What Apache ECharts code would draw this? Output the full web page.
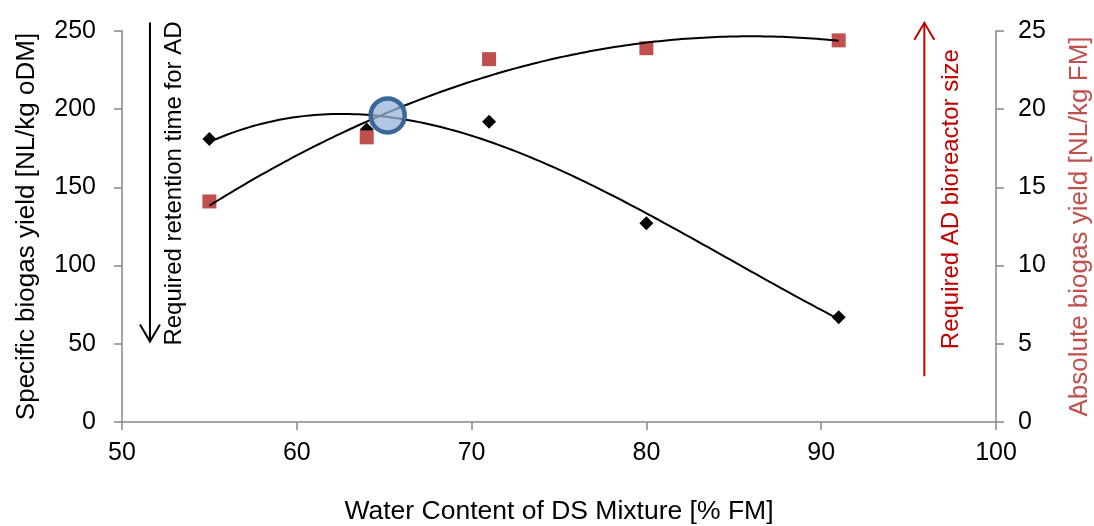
<!DOCTYPE html>
<html>
<head>
<meta charset="utf-8">
<script src="https://cdn.jsdelivr.net/npm/echarts@6/dist/echarts.min.js"></script>
<style>
  html, body { margin: 0; padding: 0; background: #ffffff; }
  #chart { width: 1094px; height: 526px; }
</style>
</head>
<body>
<div id="chart"></div>
<script>
// Measured points: water content of the DS mixture vs. biogas yields
const waterContent = [55, 64, 71, 80, 91];            // % FM
const specificYield = [181, 187, 192, 127, 67];       // NL/kg oDM (left axis)
const absoluteYield = [14.1, 18.2, 23.2, 23.9, 24.4]; // NL/kg FM (right axis)

// Highlighted optimum where both trends meet (x in % FM, y on the left axis)
const optimumPoint = [65.2, 196];

// Axis ranges
const xRange = { min: 50, max: 100, interval: 10 };
const leftRange = { min: 0, max: 250, interval: 50 };
const rightRange = { min: 0, max: 25, interval: 5 };

// Text
const xTitle = 'Water Content of DS Mixture [% FM]';
const leftTitle = 'Specific biogas yield [NL/kg oDM]';
const rightTitle = 'Absolute biogas yield [NL/kg FM]';
const retentionNote = 'Required retention time for AD';
const reactorNote = 'Required AD bioreactor size';

// Least-squares polynomial trend line (centered x for stability)
function polyfit(xs, ys, order) {
  const mean = xs.reduce((a, b) => a + b, 0) / xs.length;
  const n = order + 1;
  const A = Array.from({ length: n }, () => new Array(n + 1).fill(0));
  xs.forEach((x, k) => {
    const t = x - mean;
    for (let i = 0; i < n; i++) {
      for (let j = 0; j < n; j++) A[i][j] += Math.pow(t, i + j);
      A[i][n] += Math.pow(t, i) * ys[k];
    }
  });
  for (let c = 0; c < n; c++) {
    let p = c;
    for (let r = c + 1; r < n; r++) if (Math.abs(A[r][c]) > Math.abs(A[p][c])) p = r;
    [A[c], A[p]] = [A[p], A[c]];
    for (let r = 0; r < n; r++) {
      if (r === c) continue;
      const f = A[r][c] / A[c][c];
      for (let k = c; k <= n; k++) A[r][k] -= f * A[c][k];
    }
  }
  const coef = A.map((row, i) => row[n] / row[i]);
  return x => coef.reduce((s, c, i) => s + c * Math.pow(x - mean, i), 0);
}

const specificFit = polyfit(waterContent, specificYield, 3);
const absoluteFit = polyfit(waterContent, absoluteYield, 2);

const xFrom = waterContent[0], xTo = waterContent[waterContent.length - 1];
const fitX = [];
for (let x = xFrom; x <= xTo + 1e-9; x += 0.25) fitX.push(+x.toFixed(2));

const FONT = '"Liberation Sans", Arial, sans-serif';
const axisGrey = '#868686';

const chart = echarts.init(document.getElementById('chart'), null, { renderer: 'canvas' });

chart.setOption({
  animation: false,
  backgroundColor: '#ffffff',
  textStyle: { fontFamily: FONT },
  grid: { left: 122, right: 98, top: 31, bottom: 104, containLabel: false, outerBoundsMode: 'none' },
  xAxis: {
    type: 'value', min: xRange.min, max: xRange.max, interval: xRange.interval,
    name: xTitle, nameLocation: 'middle', nameGap: 76,
    nameTextStyle: { fontSize: 26.5, color: '#000', fontFamily: FONT },
    axisLine: { lineStyle: { color: axisGrey, width: 1.5 } },
    axisTick: { show: true, inside: false, length: 8, lineStyle: { color: axisGrey, width: 1.5 } },
    axisLabel: { fontSize: 25, color: '#000', margin: 19, fontFamily: FONT },
    splitLine: { show: false }
  },
  yAxis: [
    {
      type: 'value', min: leftRange.min, max: leftRange.max, interval: leftRange.interval,
      position: 'left',
      name: leftTitle, nameLocation: 'middle', nameGap: 82, nameRotate: 90,
      nameTextStyle: { fontSize: 26, color: '#000', fontFamily: FONT },
      axisLine: { show: true, lineStyle: { color: axisGrey, width: 1.5 } },
      axisTick: { show: true, length: 8, lineStyle: { color: axisGrey, width: 1.5 } },
      axisLabel: { fontSize: 25, color: '#000', margin: 26, fontFamily: FONT },
      splitLine: { show: false }
    },
    {
      type: 'value', min: rightRange.min, max: rightRange.max, interval: rightRange.interval,
      position: 'right',
      name: rightTitle, nameLocation: 'middle', nameGap: 71, nameRotate: 90,
      nameTextStyle: { fontSize: 26, color: '#c0504d', fontFamily: FONT },
      axisLine: { show: true, lineStyle: { color: axisGrey, width: 1.5 } },
      axisTick: { show: true, length: 8, lineStyle: { color: axisGrey, width: 1.5 } },
      axisLabel: { fontSize: 25, color: '#000', margin: 22, fontFamily: FONT },
      splitLine: { show: false }
    }
  ],
  series: [
    {
      name: 'Specific biogas yield', type: 'scatter', yAxisIndex: 0,
      symbol: 'diamond', symbolSize: 14, z: 2,
      itemStyle: { color: '#000000', opacity: 1 },
      data: waterContent.map((x, i) => [x, specificYield[i]])
    },
    {
      name: 'Absolute biogas yield', type: 'scatter', yAxisIndex: 1,
      symbol: 'rect', symbolSize: 14, z: 2,
      itemStyle: { color: '#c0504d', opacity: 1 },
      data: waterContent.map((x, i) => [x, absoluteYield[i]])
    },
    {
      name: 'Specific yield trend', type: 'line', yAxisIndex: 0,
      showSymbol: false, smooth: false, z: 3,
      lineStyle: { color: '#000000', width: 2 },
      data: fitX.map(x => [x, specificFit(x)])
    },
    {
      name: 'Absolute yield trend', type: 'line', yAxisIndex: 1,
      showSymbol: false, smooth: false, z: 3,
      lineStyle: { color: '#000000', width: 2 },
      data: fitX.map(x => [x, absoluteFit(x)])
    },
    {
      name: 'Optimum', type: 'scatter', yAxisIndex: 0,
      symbol: 'circle', symbolSize: 34, z: 5,
      itemStyle: { color: 'rgba(149,179,215,0.75)', borderColor: '#3c6696', borderWidth: 4.5, opacity: 1 },
      data: [optimumPoint]
    }
  ]
});

// Direction arrows and their captions, placed in axis units
const retentionArrow = { x: 51.6, from: 255.5, to: 51.5 };
const reactorArrow = { x: 95.9, from: 29.2, to: 255.2 };
const retentionLabelAt = [53.0, 152.5];
const reactorLabelAt = [97.45, 142.5];

function px(pt) { return chart.convertToPixel({ xAxisIndex: 0, yAxisIndex: 0 }, pt); }

function arrow(a, color) {
  const p0 = px([a.x, a.from]);
  const p1 = px([a.x, a.to]);
  const dir = p1[1] > p0[1] ? 1 : -1;
  const head = 17, half = 10;
  return [
    { type: 'line', shape: { x1: p0[0], y1: p0[1], x2: p1[0], y2: p1[1] },
      style: { stroke: color, lineWidth: 2 }, z: 10 },
    { type: 'polyline', shape: { points: [[p1[0] - half, p1[1] - dir * head], [p1[0], p1[1]], [p1[0] + half, p1[1] - dir * head]] },
      style: { stroke: color, lineWidth: 2, fill: null }, z: 10 }
  ];
}

function caption(text, at, color) {
  const p = px(at);
  return {
    type: 'text', x: p[0], y: p[1], rotation: Math.PI / 2, z: 10,
    style: { text: text, fill: color, font: '24px ' + FONT, align: 'center', verticalAlign: 'middle' }
  };
}

chart.setOption({
  graphic: [].concat(
    arrow(retentionArrow, '#000000'),
    arrow(reactorArrow, '#c00000'),
    [caption(retentionNote, retentionLabelAt, '#000000'),
     caption(reactorNote, reactorLabelAt, '#c00000')]
  )
});
</script>
</body>
</html>
